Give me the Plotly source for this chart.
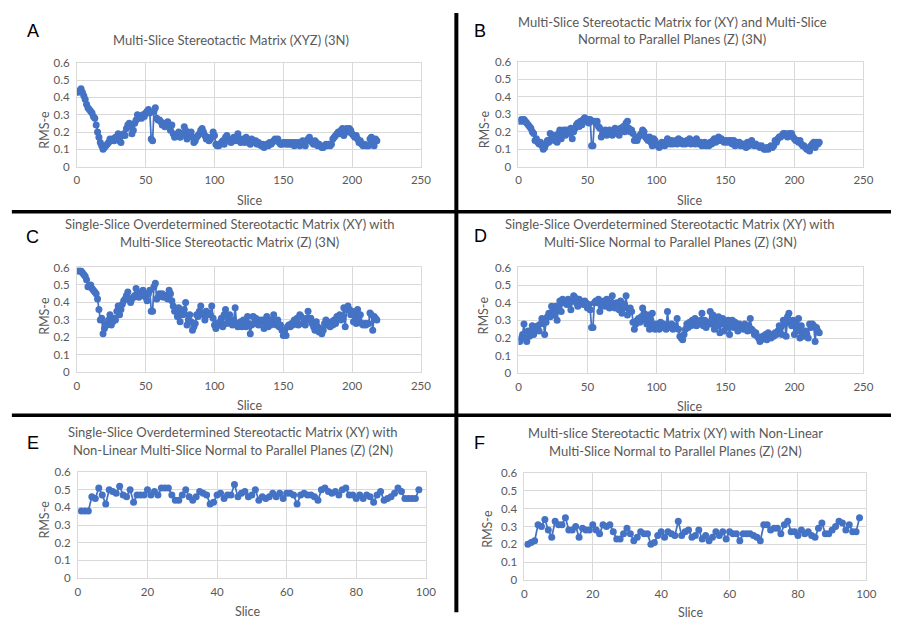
import plotly.graph_objects as go

W, H = 901, 628

slices_3n = list(range(1, 219))
slices_2n = list(range(1, 99))

rms_a = [0.43,0.44,0.45,0.43,0.41,0.39,0.36,0.34,0.33,0.32,
         0.31,0.29,0.28,0.24,0.20,0.17,0.14,0.12,0.10,0.11,
         0.12,0.13,0.14,0.16,0.15,0.16,0.15,0.17,0.16,0.19,
         0.15,0.14,0.18,0.19,0.18,0.22,0.24,0.25,0.23,0.19,
         0.21,0.25,0.27,0.30,0.28,0.29,0.28,0.30,0.29,0.31,
         0.32,0.33,0.31,0.16,0.15,0.32,0.34,0.28,0.27,0.27,
         0.26,0.24,0.25,0.23,0.25,0.26,0.24,0.21,0.24,0.19,
         0.17,0.18,0.18,0.20,0.17,0.18,0.19,0.23,0.21,0.16,
         0.18,0.19,0.20,0.17,0.14,0.15,0.17,0.18,0.19,0.21,
         0.22,0.20,0.18,0.16,0.17,0.15,0.16,0.17,0.20,0.18,
         0.13,0.12,0.12,0.13,0.14,0.15,0.13,0.17,0.18,0.16,
         0.15,0.14,0.16,0.17,0.15,0.16,0.19,0.15,0.14,0.16,
         0.15,0.14,0.17,0.15,0.14,0.13,0.16,0.15,0.14,0.15,
         0.13,0.14,0.13,0.12,0.13,0.11,0.12,0.13,0.12,0.14,
         0.13,0.14,0.15,0.16,0.15,0.16,0.14,0.13,0.13,0.14,
         0.14,0.13,0.14,0.13,0.14,0.13,0.14,0.12,0.14,0.13,
         0.14,0.12,0.13,0.15,0.13,0.12,0.15,0.16,0.17,0.15,
         0.14,0.13,0.15,0.14,0.12,0.13,0.12,0.11,0.11,0.12,
         0.13,0.12,0.13,0.12,0.13,0.16,0.17,0.18,0.19,0.20,
         0.19,0.21,0.22,0.18,0.21,0.22,0.20,0.22,0.21,0.19,
         0.18,0.17,0.18,0.16,0.14,0.15,0.13,0.12,0.13,0.12,
         0.12,0.12,0.16,0.17,0.15,0.12,0.16,0.15]

rms_b = [0.26,0.27,0.26,0.27,0.26,0.25,0.24,0.23,0.22,0.20,
         0.19,0.15,0.16,0.14,0.13,0.14,0.12,0.10,0.11,0.13,
         0.15,0.14,0.19,0.16,0.18,0.15,0.17,0.14,0.19,0.21,
         0.16,0.20,0.21,0.18,0.21,0.20,0.19,0.22,0.16,0.20,
         0.22,0.24,0.25,0.23,0.26,0.24,0.27,0.28,0.26,0.27,
         0.25,0.27,0.12,0.12,0.26,0.25,0.26,0.23,0.22,0.17,
         0.19,0.20,0.21,0.18,0.19,0.21,0.20,0.18,0.19,0.22,
         0.20,0.21,0.18,0.22,0.21,0.23,0.20,0.25,0.26,0.22,
         0.20,0.21,0.19,0.15,0.16,0.15,0.17,0.18,0.19,0.21,
         0.20,0.17,0.16,0.15,0.17,0.14,0.12,0.16,0.15,0.13,
         0.12,0.11,0.12,0.14,0.13,0.12,0.14,0.16,0.14,0.13,
         0.15,0.13,0.14,0.15,0.13,0.16,0.14,0.15,0.13,0.14,
         0.13,0.15,0.14,0.16,0.13,0.15,0.14,0.13,0.16,0.14,
         0.13,0.14,0.12,0.13,0.14,0.12,0.13,0.12,0.14,0.13,
         0.15,0.16,0.14,0.15,0.17,0.15,0.16,0.15,0.14,0.15,
         0.14,0.15,0.14,0.15,0.13,0.15,0.12,0.14,0.13,0.14,
         0.12,0.13,0.12,0.13,0.11,0.14,0.12,0.13,0.15,0.13,
         0.12,0.13,0.12,0.12,0.11,0.12,0.11,0.10,0.10,0.11,
         0.10,0.11,0.12,0.11,0.12,0.15,0.14,0.16,0.17,0.17,
         0.18,0.19,0.19,0.18,0.17,0.19,0.18,0.19,0.17,0.16,
         0.15,0.15,0.14,0.15,0.13,0.12,0.12,0.11,0.10,0.10,
         0.09,0.12,0.13,0.14,0.11,0.14,0.13,0.14]

rms_c = [0.58,0.58,0.58,0.57,0.56,0.55,0.53,0.49,0.49,0.50,
         0.48,0.47,0.46,0.45,0.42,0.36,0.30,0.31,0.22,0.25,
         0.28,0.27,0.30,0.33,0.27,0.29,0.31,0.30,0.35,0.38,
         0.33,0.36,0.39,0.41,0.42,0.44,0.46,0.42,0.40,0.42,
         0.43,0.44,0.48,0.46,0.43,0.45,0.44,0.47,0.45,0.43,
         0.41,0.45,0.47,0.35,0.35,0.49,0.51,0.42,0.43,0.45,
         0.44,0.45,0.43,0.44,0.44,0.42,0.47,0.45,0.41,0.38,
         0.35,0.36,0.32,0.37,0.29,0.35,0.33,0.36,0.40,0.27,
         0.30,0.33,0.29,0.24,0.26,0.28,0.33,0.32,0.35,0.38,
         0.34,0.33,0.30,0.35,0.33,0.34,0.33,0.38,0.31,0.27,
         0.25,0.28,0.27,0.29,0.31,0.26,0.33,0.36,0.28,0.30,
         0.33,0.29,0.27,0.30,0.37,0.28,0.26,0.27,0.29,0.26,
         0.30,0.27,0.26,0.32,0.28,0.22,0.27,0.32,0.28,0.31,
         0.29,0.27,0.30,0.29,0.30,0.25,0.28,0.32,0.26,0.30,
         0.27,0.29,0.33,0.28,0.27,0.30,0.26,0.27,0.24,0.21,
         0.24,0.21,0.26,0.27,0.26,0.28,0.27,0.30,0.29,0.31,
         0.27,0.33,0.32,0.28,0.30,0.27,0.31,0.35,0.30,0.31,
         0.28,0.26,0.24,0.29,0.26,0.23,0.25,0.22,0.24,0.28,
         0.30,0.27,0.28,0.26,0.29,0.27,0.30,0.28,0.32,0.31,
         0.33,0.30,0.32,0.37,0.26,0.36,0.38,0.36,0.33,0.35,
         0.29,0.33,0.28,0.36,0.30,0.33,0.28,0.27,0.28,0.27,
         0.28,0.28,0.34,0.33,0.24,0.32,0.31,0.30]

rms_d = [0.18,0.20,0.22,0.28,0.20,0.18,0.24,0.21,0.23,0.27,
         0.22,0.25,0.26,0.27,0.24,0.28,0.31,0.30,0.22,0.29,
         0.32,0.34,0.32,0.38,0.36,0.33,0.38,0.30,0.37,0.41,
         0.35,0.42,0.40,0.41,0.39,0.42,0.40,0.36,0.41,0.44,
         0.43,0.40,0.38,0.42,0.41,0.40,0.39,0.41,0.40,0.37,
         0.39,0.36,0.26,0.26,0.40,0.41,0.40,0.42,0.35,0.38,
         0.40,0.41,0.38,0.42,0.39,0.37,0.40,0.44,0.39,0.37,
         0.40,0.38,0.36,0.41,0.34,0.37,0.39,0.44,0.33,0.36,
         0.37,0.35,0.29,0.25,0.28,0.30,0.31,0.29,0.32,0.37,
         0.34,0.30,0.28,0.33,0.25,0.30,0.34,0.27,0.25,0.28,
         0.27,0.25,0.29,0.26,0.28,0.27,0.25,0.35,0.27,0.26,
         0.28,0.25,0.27,0.26,0.31,0.25,0.21,0.20,0.19,0.22,
         0.25,0.28,0.26,0.29,0.27,0.30,0.28,0.31,0.27,0.29,
         0.28,0.30,0.34,0.27,0.30,0.26,0.29,0.28,0.35,0.28,
         0.33,0.25,0.30,0.27,0.32,0.23,0.28,0.31,0.24,0.29,
         0.26,0.30,0.22,0.28,0.30,0.26,0.29,0.27,0.24,0.28,
         0.26,0.27,0.25,0.28,0.26,0.24,0.27,0.31,0.25,0.24,
         0.22,0.23,0.21,0.20,0.18,0.19,0.21,0.20,0.22,0.19,
         0.23,0.21,0.20,0.22,0.21,0.23,0.22,0.24,0.27,0.26,
         0.22,0.30,0.28,0.21,0.32,0.34,0.29,0.27,0.30,0.22,
         0.28,0.24,0.31,0.20,0.27,0.22,0.21,0.24,0.22,0.20,
         0.28,0.26,0.28,0.27,0.18,0.26,0.24,0.23]

rms_e = [0.38,0.38,0.38,0.46,0.45,0.51,0.47,0.42,0.50,0.49,
         0.48,0.52,0.47,0.46,0.50,0.43,0.47,0.47,0.47,0.50,
         0.47,0.49,0.47,0.51,0.51,0.51,0.47,0.44,0.44,0.47,
         0.50,0.46,0.44,0.46,0.49,0.48,0.47,0.42,0.43,0.47,
         0.48,0.45,0.47,0.47,0.53,0.46,0.48,0.49,0.46,0.47,
         0.50,0.44,0.46,0.45,0.46,0.48,0.46,0.48,0.45,0.48,
         0.48,0.47,0.42,0.47,0.48,0.47,0.47,0.46,0.44,0.50,
         0.51,0.49,0.48,0.49,0.47,0.50,0.51,0.47,0.47,0.45,
         0.47,0.45,0.47,0.46,0.43,0.47,0.49,0.44,0.45,0.46,
         0.48,0.51,0.49,0.45,0.45,0.45,0.45,0.50]

rms_f = [0.20,0.21,0.22,0.31,0.30,0.34,0.28,0.24,0.33,0.31,
         0.31,0.35,0.28,0.28,0.30,0.24,0.29,0.28,0.28,0.31,
         0.28,0.26,0.31,0.30,0.31,0.27,0.23,0.23,0.26,0.29,
         0.26,0.22,0.24,0.27,0.26,0.26,0.20,0.21,0.25,0.27,
         0.24,0.27,0.26,0.25,0.33,0.25,0.27,0.28,0.24,0.25,
         0.28,0.23,0.25,0.22,0.24,0.27,0.25,0.27,0.23,0.27,
         0.26,0.26,0.22,0.26,0.26,0.26,0.25,0.24,0.22,0.31,
         0.31,0.28,0.29,0.29,0.26,0.31,0.33,0.27,0.27,0.25,
         0.28,0.26,0.27,0.25,0.24,0.29,0.32,0.26,0.26,0.28,
         0.30,0.33,0.32,0.28,0.31,0.27,0.27,0.35]

panel_letters = ["A", "B", "C", "D", "E", "F"]
titles = [
    ["Multi-Slice Stereotactic Matrix (XYZ) (3N)"],
    ["Multi-Slice Stereotactic Matrix for (XY) and Multi-Slice", "Normal to Parallel Planes (Z) (3N)"],
    ["Single-Slice Overdetermined Stereotactic Matrix (XY) with", "Multi-Slice Stereotactic Matrix (Z) (3N)"],
    ["Single-Slice Overdetermined Stereotactic Matrix (XY) with", "Multi-Slice Normal to Parallel Planes (Z) (3N)"],
    ["Single-Slice Overdetermined Stereotactic Matrix (XY) with", "Non-Linear Multi-Slice Normal to Parallel Planes (Z) (2N)"],
    ["Multi-slice Stereotactic Matrix (XY) with Non-Linear", "Multi-Slice Normal to Parallel Planes (Z) (2N)"],
]
x_title = "Slice"
y_title = "RMS-e"
y_ticks = [0, 0.1, 0.2, 0.3, 0.4, 0.5, 0.6]
x_ticks_3n = [0, 50, 100, 150, 200, 250]
x_ticks_2n = [0, 20, 40, 60, 80, 100]

series = [(slices_3n, rms_a), (slices_3n, rms_b), (slices_3n, rms_c),
          (slices_3n, rms_d), (slices_2n, rms_e), (slices_2n, rms_f)]
xticks = [x_ticks_3n] * 4 + [x_ticks_2n] * 2

# plot areas in pixels: (left, right, top, bottom)
areas = [(75, 424, 57, 163), (523, 873, 56, 163),
         (75, 424, 266, 373), (523, 873, 266, 374),
         (76, 429, 475, 583), (529, 876, 476, 585)]
title_pos = [(231, 34), (679, 15), (230, 222), (677, 222), (233, 434), (682, 435)]
letter_pos = [(30, 25), (484, 25), (30, 235), (484, 234), (30, 445), (483, 445)]
xtitle_pos = [(250, 198), (697, 198), (250, 407), (697, 408), (248, 617), (698, 618)]
ytitle_pos = [(42, 125), (488, 125), (42, 315), (488, 315), (42, 523), (492, 533)]

BLUE = "#4472C4"
GRID = "#D9D9D9"
TXT = "#595959"
FONT = "Lato"

fig = go.Figure()
annotations = []
for i, ((xs, ys), (l, r, t, b)) in enumerate(zip(series, areas)):
    n = "" if i == 0 else str(i + 1)
    fig.add_trace(go.Scatter(
        x=xs, y=ys, mode="lines+markers", xaxis="x" + n, yaxis="y" + n,
        line=dict(color=BLUE, width=1.75),
        marker=dict(color=BLUE, size=7), showlegend=False, hoverinfo="skip"))
    xt = xticks[i]
    fig.update_layout(**{
        "xaxis" + n: dict(domain=[l / W, r / W], anchor="y" + n, range=[xt[0], xt[-1]],
                          tickvals=xt, showgrid=True, gridcolor=GRID, gridwidth=1,
                          showline=True, linecolor=GRID, linewidth=1, mirror=True,
                          zeroline=False, ticks="outside", ticklen=3,
                          tickcolor="rgba(0,0,0,0)",
                          tickfont=dict(family=FONT, size=11.5, color=TXT)),
        "yaxis" + n: dict(domain=[1 - b / H, 1 - t / H], anchor="x" + n, range=[0, 0.6],
                          tickvals=y_ticks, showgrid=True, gridcolor=GRID, gridwidth=1,
                          showline=True, linecolor=GRID, linewidth=1, mirror=True,
                          zeroline=False, ticks="outside", ticklen=4,
                          tickcolor="rgba(0,0,0,0)",
                          tickfont=dict(family=FONT, size=11.5, color=TXT)),
    })
    tx, ty = title_pos[i]
    for k, line in enumerate(titles[i]):
        annotations.append(dict(x=tx / W, y=1 - (ty + 18 * k) / H, xref="paper", yref="paper",
                                text=line, showarrow=False, xanchor="center", yanchor="middle",
                                font=dict(family=FONT, size=13, color=TXT)))
    lx, ly = letter_pos[i]
    annotations.append(dict(x=lx / W, y=1 - ly / H, xref="paper", yref="paper",
                            text=panel_letters[i], showarrow=False, xanchor="center",
                            yanchor="middle", font=dict(family="Liberation Sans", size=18, color="#000000")))
    ax, ay = xtitle_pos[i]
    annotations.append(dict(x=ax / W, y=1 - ay / H, xref="paper", yref="paper",
                            text=x_title, showarrow=False, xanchor="center", yanchor="middle",
                            font=dict(family=FONT, size=12.5, color=TXT)))
    yx, yy = ytitle_pos[i]
    annotations.append(dict(x=yx / W, y=1 - yy / H, xref="paper", yref="paper",
                            text=y_title, showarrow=False, xanchor="center", yanchor="middle",
                            textangle=-90, font=dict(family=FONT, size=12.5, color=TXT)))

shapes = [
    dict(type="line", xref="paper", yref="paper", x0=9 / W, x1=1, y0=1 - 209 / H, y1=1 - 209 / H,
         line=dict(color="#000000", width=3.5)),
    dict(type="line", xref="paper", yref="paper", x0=9 / W, x1=1, y0=1 - 417 / H, y1=1 - 417 / H,
         line=dict(color="#000000", width=3.5)),
    dict(type="line", xref="paper", yref="paper", x0=460 / W, x1=460 / W, y0=1 - 6 / H, y1=1 - 618 / H,
         line=dict(color="#000000", width=4)),
]

fig.update_layout(width=W, height=H, margin=dict(l=0, r=0, t=0, b=0),
                  paper_bgcolor="white", plot_bgcolor="white",
                  annotations=annotations, shapes=shapes)

fig.write_html("out.html", config={"displayModeBar": False},
               post_script="document.body.style.margin='0';document.body.style.overflow='hidden';")
